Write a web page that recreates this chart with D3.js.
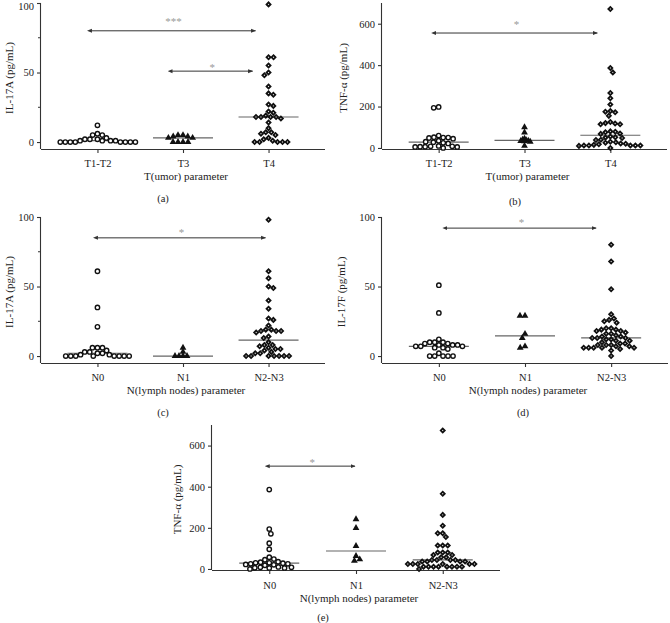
<!DOCTYPE html>
<html><head><meta charset="utf-8">
<script src="https://cdn.jsdelivr.net/npm/d3@7"></script>
<style>
body{margin:0;background:#fff;}
svg{display:block;}
text{font-family:"Liberation Serif","DejaVu Serif",serif;fill:#222;}
</style></head>
<body>
<svg id="chart" width="670" height="623"></svg>
<script>
// ---------- DATA ----------
const catsT = ["T1-T2", "T3", "T4"];
const catsN = ["N0", "N1", "N2-N3"];
const tickLabels100 = [0, 50, 100];
const minorTicks100 = [25, 75];
const tickLabels600 = [0, 200, 400, 600];

// (a) IL-17A by T
const a_T12 = [0,0,0,2,1,0,1,2,3,5,5,6,1,1,0,2,0,0,0,12];
const a_T3  = [0,0,0,0,3,3,4,4,5,5];
const a_T4  = [99,61,61,55,50,48,40,35,34,27,26,22,21,19,18,18,18,18,17,14,10,7,7,6,5,3,2,1,0,0,0,0,0];
// (b) TNF-α by T
const b_T12 = [198,194,60,52,50,50,48,45,35,30,28,25,22,10,8,8,6,6,5,5,0];
const b_T3  = [100,75,45,40,38,35,34,32,30,10];
const b_T4  = [671,386,365,265,240,210,178,175,172,155,125,120,118,115,115,80,78,76,70,68,55,52,50,48,40,38,30,28,25,22,20,18,15,12,12,12,12,12,10,0];
// (c) IL-17A by N
const c_N0  = [61,35,21,6,6,6,4,3,3,2,2,1,1,0,0,0,0,0,0,0,0];
const c_N1  = [6,3,0,0,0,0];
const c_N23 = [98,61,56,50,49,40,34,27,26,22,19,19,18,18,18,17,14,13,10,8,8,7,6,5,5,4,3,2,2,0,0,0,0,0,0,0];
// (d) IL-17F by N
const d_N0  = [51,31,12,10,10,10,9,9,8,8,8,7,7,7,6,6,5,2,0,0,0,0,0];
const d_N1  = [29,29,16,13,7,6];
const d_N23 = [80,68,48,30,27,26,25,24,20,20,19,19,18,18,17,16,16,15,14,14,13,13,13,12,12,11,11,10,9,9,8,8,8,7,7,6,6,6,6,6,5,4,0];
// (e) TNF-α by N
const e_N0  = [386,194,171,125,96,57,48,45,35,33,30,30,28,25,25,22,20,18,10,8,8,6,5,5,0];
const e_N1  = [242,199,112,63,47,40];
const e_N23 = [673,366,263,210,174,174,155,114,114,114,80,80,80,68,68,57,57,44,44,44,44,36,36,36,36,24,24,24,24,24,24,11,11,11,11,11,11,11,11,0];

// significance comparisons: [fromIndex, toIndex, value, label]
const sigA = [[0, 2, 80, "***"], [1, 2, 51, "*"]];
const sigB = [[0, 2, 555, "*"]];
const sigC = [[0, 2, 85, "*"]];
const sigD = [[0, 2, 92, "*"]];
const sigE = [[0, 1, 500, "*"]];

// ---------- LAYOUT ----------
const panels = [
  {label:"(a)", cats:catsT, groups:[a_T12,a_T3,a_T4], yTitle:"IL-17A (pg/mL)", xTitle:"T(umor) parameter",
   domain:[-5,100], ticks:tickLabels100, minor:minorTicks100, x0:41, x1:325, yTop:3, yBot:149, spread:[5,5,5],
   yTitleX:9, xTickY:163, xTitleY:176, labelX:163, labelY:198, sig:sigA, sigOff:[[-6,-13,-10],[-11,-16,-4]]},
  {label:"(b)", cats:catsT, groups:[b_T12,b_T3,b_T4], yTitle:"TNF-α (pg/mL)", xTitle:"T(umor) parameter",
   domain:[-5,700], ticks:tickLabels600, minor:[], x0:382, x1:667, yTop:3, yBot:149, spread:[5,2.2,5],
   yTitleX:343, xTickY:163, xTitleY:176, labelX:515, labelY:201, sig:sigB, sigOff:[[-3,-13,-9]]},
  {label:"(c)", cats:catsN, groups:[c_N0,c_N1,c_N23], yTitle:"IL-17A (pg/mL)", xTitle:"N(lymph nodes) parameter",
   domain:[-5,100], ticks:tickLabels100, minor:minorTicks100, x0:41, x1:325, yTop:217, yBot:363, spread:[5,4,5],
   yTitleX:9, xTickY:377, xTitleY:390, labelX:163, labelY:412, sig:sigC, sigOff:[[0,-3,-6]]},
  {label:"(d)", cats:catsN, groups:[d_N0,d_N1,d_N23], yTitle:"IL-17F (pg/mL)", xTitle:"N(lymph nodes) parameter",
   domain:[-5,100], ticks:tickLabels100, minor:[], x0:382, x1:668, yTop:217, yBot:363, spread:[5,5,5],
   yTitleX:341, xTickY:377, xTitleY:390, labelX:523, labelY:412, sig:sigD, sigOff:[[8,-15,-6]]},
  {label:"(e)", cats:catsN, groups:[e_N0,e_N1,e_N23], yTitle:"TNF-α (pg/mL)", xTitle:"N(lymph nodes) parameter",
   domain:[-5,700], ticks:tickLabels600, minor:[], x0:212, x1:500, yTop:425, yBot:570, spread:[5,5,5],
   yTitleX:177, xTickY:585, xTitleY:598, labelX:323, labelY:617, sig:sigE, sigOff:[[0,-1,-4]]}
];
const shapes = ["circle", "triangle", "diamond"];

const svg = d3.select("#chart");
const defs = svg.append("defs");
["start","end"].forEach(k => {
  defs.append("marker").attr("id","arr-"+k).attr("viewBox","0 0 10 10")
    .attr("refX", k==="end"?9:1).attr("refY",5).attr("markerWidth",5).attr("markerHeight",5)
    .attr("orient","auto-start-reverse")
    .append("path").attr("d","M0,1 L10,5 L0,9 Z").attr("fill","#333");
});

// collision-based beeswarm: keep each point's y, choose the x offset closest to the centre
// (highest values placed first so low values spread outward, like the original)
function swarm(values, y, cx, d) {
  const pts = values.map(v => ({v, y: y(v)})).sort((a,b) => a.y - b.y);
  const placed = [];
  pts.forEach((p, idx) => {
    const forb = [];
    placed.forEach(q => {
      const dy = Math.abs(q.y - p.y);
      if (dy < d) { const w = Math.sqrt(d*d - dy*dy); forb.push([q.dx - w, q.dx + w]); }
    });
    const cands = [0];
    forb.forEach(f => cands.push(f[0], f[1]));
    const sgn = idx % 2 ? 1 : -1;
    cands.sort((a,b) => (Math.abs(a) - Math.abs(b)) || (sgn*(a - b)));
    const ok = cands.find(c => forb.every(f => c <= f[0] + 1e-6 || c >= f[1] - 1e-6));
    p.dx = ok;
    placed.push(p);
  });
  return placed.map(p => ({v:p.v, x: cx + p.dx, y: p.y}));
}

panels.forEach(P => {
  const g = svg.append("g");
  const y = d3.scaleLinear().domain(P.domain).range([P.yBot, P.yTop]);
  const x = d3.scalePoint().domain(P.cats).range([P.x0, P.x1]).padding(0.66);

  // axes
  const yAxis = d3.axisLeft(y).tickValues(P.ticks).tickSize(4).tickSizeOuter(0).tickPadding(3);
  const ya = g.append("g").attr("transform", `translate(${P.x0},0)`).call(yAxis);
  ya.select(".domain").attr("d", `M-0.5,${P.yTop}V${P.yBot}`);
  ya.selectAll(".tick text").attr("dy", d => y(d) < 8 ? "0.6em" : "0.32em");
  if (P.minor.length) {
    ya.selectAll(".minor").data(P.minor).enter().append("line")
      .attr("x1",-3).attr("x2",0).attr("y1",d=>y(d)).attr("y2",d=>y(d)).attr("stroke","#333");
  }
  const xAxis = d3.axisBottom(x).tickSize(4).tickSizeOuter(0).tickPadding(4);
  const xa = g.append("g").attr("transform", `translate(0,${P.yBot})`).call(xAxis);
  xa.select(".domain").attr("d", `M${P.x0},0.5H${P.x1}`);
  g.selectAll(".domain, .tick line").attr("stroke","#333").attr("stroke-width",1.1);
  g.selectAll(".tick text").attr("font-size",10.5).attr("fill","#222")
    .style("font-family","'Liberation Serif',serif");
  xa.selectAll(".tick text").attr("dy", null)
    .attr("y", P.xTickY - P.yBot).attr("dominant-baseline","central");

  // titles
  g.append("text").attr("transform", `translate(${P.yTitleX},${(P.yTop+P.yBot)/2 + 2}) rotate(-90)`)
    .attr("text-anchor","middle").attr("dominant-baseline","central").attr("font-size",11).text(P.yTitle);
  g.append("text").attr("x", (P.x0+P.x1)/2 + 3).attr("y", P.xTitleY).attr("text-anchor","middle")
    .attr("dominant-baseline","central").attr("font-size",11).text(P.xTitle);
  g.append("text").attr("x", P.labelX).attr("y", P.labelY).attr("text-anchor","middle")
    .attr("dominant-baseline","central").attr("font-size",10.5).text(P.label);

  // medians
  P.groups.forEach((vals,i) => {
    const m = d3.median(vals), cx = x(P.cats[i]);
    g.append("line").attr("x1", cx-30).attr("x2", cx+30).attr("y1", y(m)).attr("y2", y(m))
      .attr("stroke","#666").attr("stroke-width",1.2);
  });

  // points
  P.groups.forEach((vals,i) => {
    const cx = x(P.cats[i]);
    const pts = swarm(vals, y, cx, P.spread[i]);
    const shape = shapes[i];
    const sel = g.append("g").selectAll("path").data(pts).enter();
    if (shape === "circle") {
      sel.append("circle").attr("cx", d=>d.x).attr("cy", d=>d.y).attr("r",2.2)
        .attr("fill","#fff").attr("stroke","#111").attr("stroke-width",1.4);
    } else if (shape === "triangle") {
      sel.append("path").attr("d", d3.symbol(d3.symbolTriangle, 20)())
        .attr("transform", d=>`translate(${d.x},${d.y})`).attr("fill","#111");
    } else {
      sel.append("path").attr("d", d3.symbol(d3.symbolSquare, 8)())
        .attr("transform", d=>`translate(${d.x},${d.y}) rotate(45)`)
        .attr("fill","#fff").attr("stroke","#111").attr("stroke-width",1.8);
    }
  });

  // significance arrows
  P.sig.forEach((s,k) => {
    const [fi, ti, v, lab] = s;
    const off = P.sigOff[k];
    const xa1 = x(P.cats[fi]) + off[0], xa2 = x(P.cats[ti]) + off[1], yy = y(v);
    g.append("line").attr("x1",xa1).attr("x2",xa2).attr("y1",yy).attr("y2",yy)
      .attr("stroke","#333").attr("stroke-width",1)
      .attr("marker-start","url(#arr-start)").attr("marker-end","url(#arr-end)");
    g.append("text").attr("x",(xa1+xa2)/2).attr("y", yy + off[2] + 4).attr("text-anchor","middle")
      .attr("font-size",11).style("fill","#999").text(lab);
  });
});
</script>
</body></html>
